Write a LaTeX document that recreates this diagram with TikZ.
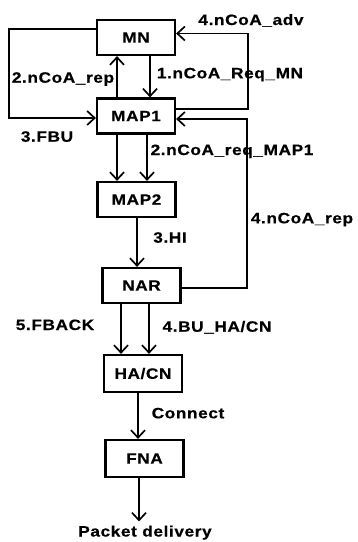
\documentclass[tikz,border=0pt]{standalone}
\usepackage{fontspec}
\setmainfont{Liberation Sans}[LetterSpace=4,FakeStretch=1.15,BoldFeatures={FakeBold=0.6}]
\usetikzlibrary{arrows.meta}
\begin{document}
\begin{tikzpicture}[x=1pt,y=-1pt,
  every node/.style={font=\fontsize{15}{17}\bfseries\selectfont, inner sep=0pt},
  box/.style={draw, line width=2.2pt, rectangle, minimum width=78pt, minimum height=35pt},
  lbl/.style={anchor=base},
  arr/.style={line width=1.9pt, -{Straight Barb[length=7.5pt,width=14pt,line width=1.7pt]}},
  ln/.style={line width=1.9pt}]
\useasboundingbox (0,0) rectangle (357,542);
% boxes
\node[box] (MN)   at (136,37.5)  {MN};
\node[box] (MAP1) at (136,116)   {MAP1};
\node[box] (MAP2) at (136.5,199.5) {MAP2};
\node[box] (NAR)  at (141.5,285.5) {NAR};
\node[box, minimum height=37pt] (HACN) at (143,373.5) {HA/CN};
\node[box, minimum height=37pt] (FNA)  at (144.5,458.5) {FNA};
\node[lbl] (PD) at (145,536.5) {Packet delivery};
% labels
\node[lbl] at (251,25)    {4.nCoA\_adv};
\node[lbl] at (63,82.7)   {2.nCoA\_rep};
\node[lbl] at (230,78.3)  {1.nCoA\_Req\_MN};
\node[lbl] at (47,141.7)  {3.FBU};
\node[lbl] at (232,155)   {2.nCoA\_req\_MAP1};
\node[lbl] at (302,223.3) {4.nCoA\_rep};
\node[lbl] at (170,242.7) {3.HI};
\node[lbl] at (55,330)    {5.FBACK};
\node[lbl] at (217,331.7) {4.BU\_HA/CN};
\node[lbl] at (188,418.3) {Connect};
% MN <-> MAP1
\draw[arr] ([xshift=-19pt]MAP1.north) -- ([xshift=-19pt]MN.south);
\draw[arr] ([xshift=14pt]MN.south) -- ([xshift=14pt]MAP1.north);
% left loop 3.FBU
\draw[arr] ([yshift=8.5pt]MN.west) -- (9,29) -- (9,118) -- ([yshift=-2pt]MAP1.west);
% right loop 4.nCoA_adv
\draw[arr] ([yshift=7pt]MAP1.east) -- (248,109) -- (248,33.5) -- ([yshift=4pt]MN.east);
% 4.nCoA_rep
\draw[arr] ([yshift=-2.5pt]NAR.east) -- (247,288) -- (247,119) -- ([yshift=-3pt]MAP1.east);
% MAP1 -> MAP2
\draw[arr] ([xshift=-19pt]MAP1.south) -- ([xshift=-19.5pt]MAP2.north);
\draw[arr] ([xshift=11pt]MAP1.south) -- ([xshift=10.5pt]MAP2.north);
% MAP2 -> NAR
\draw[arr] ([xshift=0.5pt]MAP2.south) -- ([xshift=-4.5pt]NAR.north);
% NAR -> HA/CN
\draw[arr] ([xshift=-20.5pt]NAR.south) -- ([xshift=-22pt]HACN.north);
\draw[arr] ([xshift=7.5pt]NAR.south) -- ([xshift=6pt]HACN.north);
% HA/CN -> FNA
\draw[arr] ([xshift=-5pt]HACN.south) -- ([xshift=-6.5pt]FNA.north);
% FNA -> Packet delivery
\draw[arr] ([xshift=-5.5pt]FNA.south) -- ([xshift=-6pt,yshift=4pt]PD.north);
\end{tikzpicture}
\end{document}
